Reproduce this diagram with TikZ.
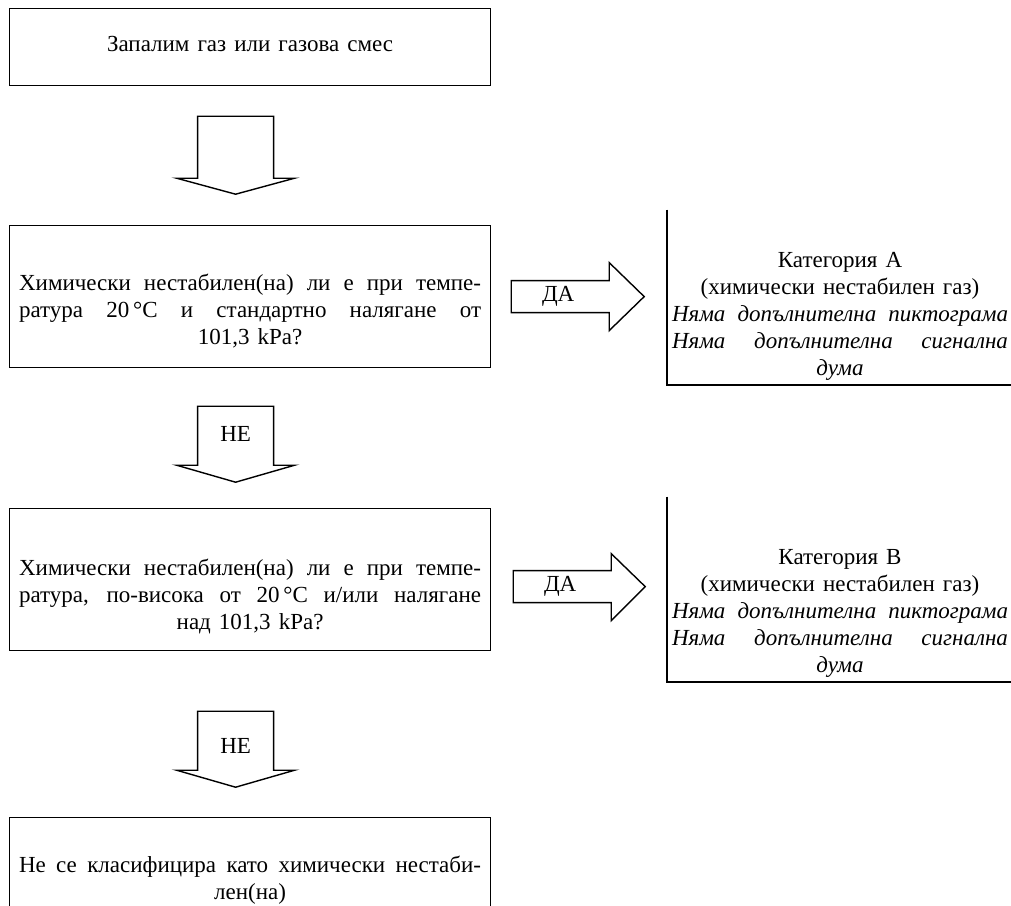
\documentclass[tikz,border=0pt]{standalone}
\usepackage{fontspec}
\setmainfont{Liberation Serif}[WordSpace=1.4]
\usetikzlibrary{calc}

\begin{document}
\begin{tikzpicture}[x=1pt,y=-1pt,
  box/.style={draw, line width=1.2pt, rectangle, inner sep=0pt},
  frame/.style={rectangle, inner sep=0pt},
  edge/.style={line width=1.2pt},
  blk/.style={draw, line width=1.4pt, line join=miter, fill=white},
  txt/.style={align=center, inner sep=0pt, font=\fontsize{23}{27}\selectfont},
  itx/.style={align=center, inner sep=0pt, font=\fontsize{23}{27}\selectfont}]

\useasboundingbox (0,0) rectangle (1011,905);
\clip (0,0) rectangle (1011,905);

% left column of boxes
\node[box, minimum width=481pt, minimum height=77pt, anchor=north west] (b1) at (9,8) {};
\node[box, minimum width=481pt, minimum height=142pt, anchor=north west] (b2) at (9,225) {};
\node[box, minimum width=481pt, minimum height=142pt, anchor=north west] (b3) at (9,508) {};
\node[box, minimum width=481pt, minimum height=140pt, anchor=north west] (b4) at (9,817) {};

% right column: result boxes, only left and bottom edges show
\node[frame, minimum width=400pt, minimum height=175pt, anchor=south west] (bA) at (667,385) {};
\node[frame, minimum width=400pt, minimum height=185pt, anchor=south west] (bB) at (667,682) {};
\draw[edge] (bA.north west) -- (bA.south west) -- (bA.south east);
\draw[edge] (bB.north west) -- (bB.south west) -- (bB.south east);

% texts
\node[txt] (t1) at ($(b1.center)+(0,-3)$) {Запалим газ или газова смес};
\node[txt] (t2) at ($(b2.center)+(0,14)$) {%
  \makebox[462pt][s]{Химически нестабилен(на) ли е при темпе-}\\
  \makebox[462pt][s]{ратура 20\,°C и стандартно налягане от}\\
  101,3 kPa?};
\node[txt] (t3) at ($(b3.center)+(0,17)$) {%
  \makebox[462pt][s]{Химически нестабилен(на) ли е при темпе-}\\
  \makebox[462pt][s]{ратура, по-висока от 20\,°C и/или налягане}\\
  над 101,3 kPa?};
\node[txt, anchor=north] (t4) at ($(b4.north)+(0,39)$) {%
  \makebox[462pt][s]{Не се класифицира като химически нестаби-}\\
  лен(на)};

\node[itx, anchor=south] (tA) at (840,381) {%
  Категория A\\
  (химически нестабилен газ)\\
  \makebox[336pt][s]{\itshape Няма допълнителна пиктограма}\\
  \makebox[336pt][s]{\itshape Няма допълнителна сигнална}\\
  \itshape дума};
\node[itx, anchor=south] (tB) at (840,678) {%
  Категория B\\
  (химически нестабилен газ)\\
  \makebox[336pt][s]{\itshape Няма допълнителна пиктограма}\\
  \makebox[336pt][s]{\itshape Няма допълнителна сигнална}\\
  \itshape дума};

% downward block arrows
\coordinate (d1) at ($(b1.south)+(-14.5,30)$);
\coordinate (d2) at ($(b2.south)+(-14.5,38)$);
\coordinate (d3) at ($(b3.south)+(-14.5,60)$);
\draw[blk] ($(d1)+(-38,0)$) -- ++(0,62) -- ++(-21,0) -- ++(59,16) -- ++(59,-16) -- ++(-21,0) -- ++(0,-62) -- cycle;
\draw[blk] ($(d2)+(-38,0)$) -- ++(0,59) -- ++(-21,0) -- ++(59,17) -- ++(59,-17) -- ++(-21,0) -- ++(0,-59) -- cycle;
\draw[blk] ($(d3)+(-38,0)$) -- ++(0,59) -- ++(-21,0) -- ++(59,17) -- ++(59,-17) -- ++(-21,0) -- ++(0,-59) -- cycle;
\node[txt] (n2) at ($(d2)+(0,28)$) {НЕ};
\node[txt] (n3) at ($(d3)+(0,35)$) {НЕ};

% rightward block arrows
\coordinate (r1) at ($(b2.east)+(20,0)$);
\coordinate (r2) at ($(b3.east)+(22,7)$);
\draw[blk] ($(r1)+(0,-16)$) -- ++(98,0) -- ++(0,-18) -- ++(35,34) -- ++(-35,34) -- ++(0,-18) -- ++(-98,0) -- cycle;
\draw[blk] ($(r2)+(0,-16)$) -- ++(98,0) -- ++(0,-17) -- ++(34,33) -- ++(-34,34) -- ++(0,-18) -- ++(-98,0) -- cycle;
\node[txt] (y1) at ($(r1)+(47,0)$) {ДА};
\node[txt] (y2) at ($(r2)+(47,0)$) {ДА};

\end{tikzpicture}
\end{document}
